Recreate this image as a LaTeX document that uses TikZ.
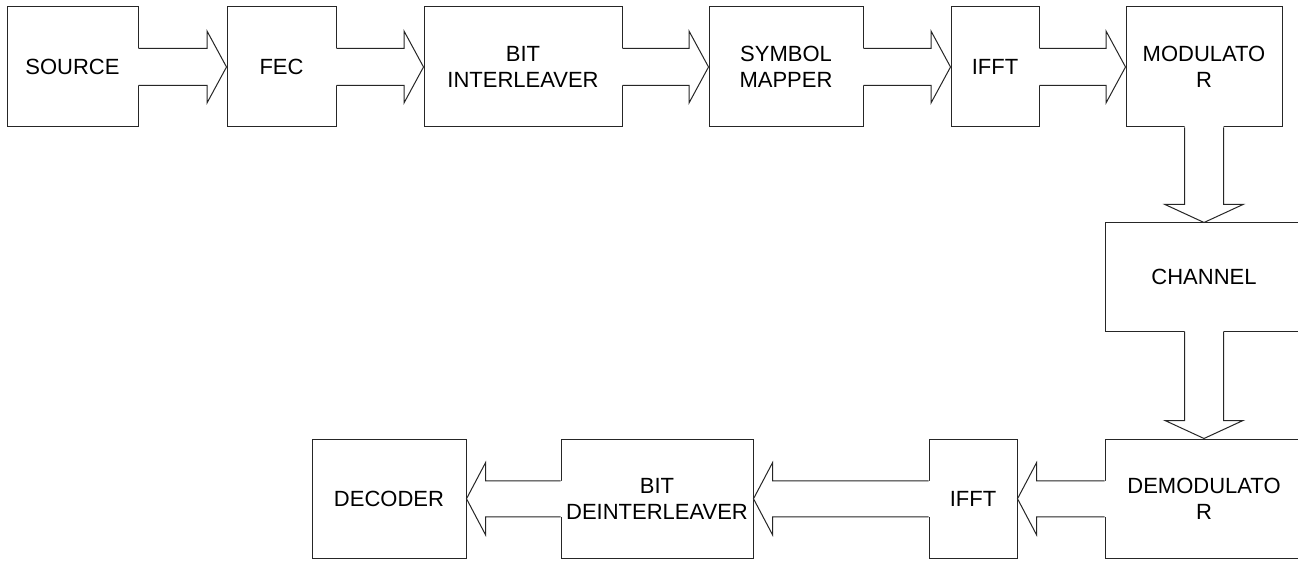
\documentclass[tikz,border=0pt]{standalone}
\usepackage{fontspec}
\setmainfont{Liberation Sans}
\usetikzlibrary{calc}
\newcommand\rarrow[2]{%
  \fill[white] let \p1=(#1.east), \p2=(#2.west) in
    (\x1-1.5pt,\y1+18.5pt) -- (\x2-19.5pt,\y1+18.5pt) -- (\x2-19.5pt,\y1+36pt) -- (\x2,\y1)
    -- (\x2-19.5pt,\y1-36pt) -- (\x2-19.5pt,\y1-18.5pt) -- (\x1-1.5pt,\y1-18.5pt) -- cycle;
  \draw[arr] let \p1=(#1.east), \p2=(#2.west) in
    (\x1,\y1+18.5pt) -- (\x2-19.5pt,\y1+18.5pt) -- (\x2-19.5pt,\y1+36pt) -- (\x2,\y1)
    -- (\x2-19.5pt,\y1-36pt) -- (\x2-19.5pt,\y1-18.5pt) -- (\x1,\y1-18.5pt);
}
\newcommand\larrow[2]{%
  \fill[white] let \p1=(#1.west), \p2=(#2.east) in
    (\x1+1.5pt,\y1+18pt) -- (\x2+19pt,\y1+18pt) -- (\x2+19pt,\y1+36pt) -- (\x2,\y1)
    -- (\x2+19pt,\y1-36pt) -- (\x2+19pt,\y1-18pt) -- (\x1+1.5pt,\y1-18pt) -- cycle;
  \draw[arr] let \p1=(#1.west), \p2=(#2.east) in
    (\x1,\y1+18pt) -- (\x2+19pt,\y1+18pt) -- (\x2+19pt,\y1+36pt) -- (\x2,\y1)
    -- (\x2+19pt,\y1-36pt) -- (\x2+19pt,\y1-18pt) -- (\x1,\y1-18pt);
}
\newcommand\darrow[2]{%
  \fill[white] let \p1=(#1.south), \p2=(#2.north) in
    (\x1-19.5pt,\y1+1.5pt) -- (\x1-19.5pt,\y2+18pt) -- (\x1-39pt,\y2+18pt) -- (\x1,\y2)
    -- (\x1+39pt,\y2+18pt) -- (\x1+19.5pt,\y2+18pt) -- (\x1+19.5pt,\y1+1.5pt) -- cycle;
  \draw[arr] let \p1=(#1.south), \p2=(#2.north) in
    (\x1-19.5pt,\y1) -- (\x1-19.5pt,\y2+18pt) -- (\x1-39pt,\y2+18pt) -- (\x1,\y2)
    -- (\x1+39pt,\y2+18pt) -- (\x1+19.5pt,\y2+18pt) -- (\x1+19.5pt,\y1);
}
\begin{document}
\begin{tikzpicture}[x=1pt,y=-1pt,line width=1pt,
  blk/.style={draw=black!85, fill=white, rectangle, inner sep=0pt, align=center,
    font=\fontsize{22}{26}\selectfont},
  toprow/.style={blk, minimum height=120pt},
  botrow/.style={blk, minimum height=119.5pt},
  arr/.style={draw=black!85, line join=miter}]
\useasboundingbox[fill=white] (0,0) rectangle (1298,561);
% top row
\node[toprow, minimum width=131pt] (src) at (72.5,67) {SOURCE};
\node[toprow, minimum width=109pt] (fec) at (281.5,67) {FEC};
\node[toprow, minimum width=198pt] (bil) at (523,67) {BIT\\INTERLEAVER};
\node[toprow, minimum width=154pt] (sym) at (786,67) {SYMBOL\\MAPPER};
\node[toprow, minimum width=88pt] (ifft) at (995,67) {IFFT};
\node[toprow, minimum width=156pt] (mod) at (1204,67) {MODULATO\\R};
% channel
\node[blk, minimum width=198pt, minimum height=108pt] (chan) at (1204,277) {CHANNEL};
% bottom row
\node[botrow, minimum width=198pt] (demod) at (1204,498.75) {DEMODULATO\\R};
\node[botrow, minimum width=88pt] (ifftb) at (973,498.75) {IFFT};
\node[botrow, minimum width=192pt] (bdil) at (657,498.75) {BIT\\DEINTERLEAVER};
\node[botrow, minimum width=154pt] (dec) at (389,498.75) {DECODER};
% block arrows
\rarrow{src}{fec}
\rarrow{fec}{bil}
\rarrow{bil}{sym}
\rarrow{sym}{ifft}
\rarrow{ifft}{mod}
\darrow{mod}{chan}
\darrow{chan}{demod}
\larrow{demod}{ifftb}
\larrow{ifftb}{bdil}
\larrow{bdil}{dec}
\end{tikzpicture}
\end{document}
